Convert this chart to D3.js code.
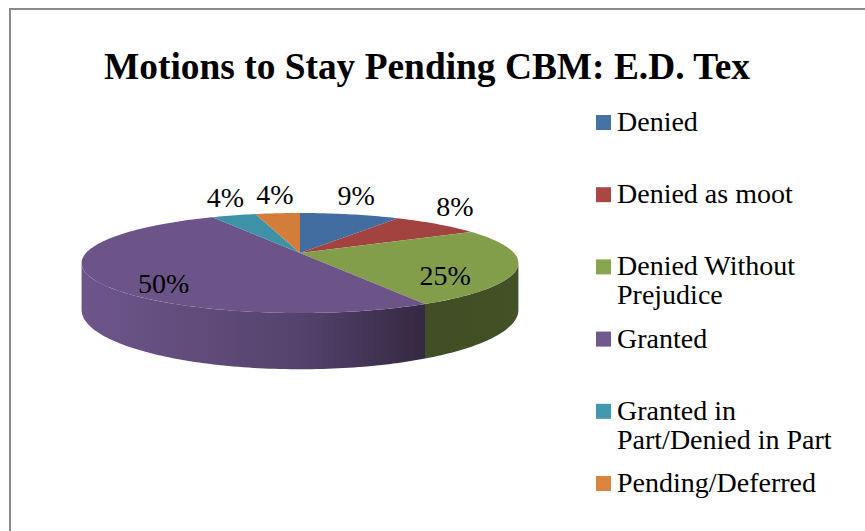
<!DOCTYPE html>
<html lang="en">
<head>
<meta charset="UTF-8">
<title>Motions to Stay Pending CBM: E.D. Tex</title>
<script src="https://d3js.org/d3.v7.min.js"></script>
<style>
  body { margin: 0; background: #fff; }
  text { font-family: "Liberation Serif", "DejaVu Serif", serif; }
</style>
</head>
<body>
<svg></svg>
<script>
  // chart data
  const title = 'Motions to Stay Pending CBM: E.D. Tex'
  const categories = ['Denied', 'Denied as moot', 'Denied Without Prejudice', 'Granted',
    'Granted in Part/Denied in Part', 'Pending/Deferred']
  const legendLines = [['Denied'], ['Denied as moot'], ['Denied Without', 'Prejudice'], ['Granted'],
    ['Granted in', 'Part/Denied in Part'], ['Pending/Deferred']]
  const shares = [9, 8, 25, 50, 4, 4]
  const colors = ['#4572A7', '#AA4643', '#89A54E', '#71588F', '#4198AF', '#DB843D']

  const width = 865, height = 531
  const svg = d3.select('svg').attr('width', width).attr('height', height)
  const defs = svg.append('defs')

  // chart border (left / top only visible)
  svg.append('rect')
    .attr('x', 10).attr('y', 9).attr('width', 900).attr('height', 600)
    .attr('fill', 'none').attr('stroke', '#8a8a8a').attr('stroke-width', 2)

  svg.append('text')
    .attr('x', 104).attr('y', 79)
    .attr('textLength', 646).attr('lengthAdjust', 'spacingAndGlyphs')
    .style('font-size', '38px').style('font-weight', 'bold')
    .text(title)

  // 3d pie: perspective projection of a tilted disc
  const cx = 300, cy = 253, R = 214, A = 48, persp = 0.2, depth = 45
  function proj(t, k = 1, dz = 0) {
    const s = 1 / (1 + persp * k * Math.cos(t))
    return [cx + R * k * Math.sin(t) * s, cy - A * k * Math.cos(t) * s + dz * s]
  }

  const pie = d3.pie().sort(null).value(d => d)
  const arcs = pie(shares)

  const rim = (a, b, dz) => {
    const n = Math.max(2, Math.ceil((b - a) / 0.02))
    return d3.range(n + 1).map(i => proj(a + (b - a) * i / n, 1, dz))
  }

  // side walls (front half only)
  const tR = Math.acos(-persp), tL = 2 * Math.PI - tR
  const sides = svg.append('g')
  arcs.forEach((d, i) => {
    const a = Math.max(d.startAngle, tR), b = Math.min(d.endAngle, tL)
    if (b <= a) return
    const base = d3.color(colors[i])
    const grad = defs.append('linearGradient')
      .attr('id', 'side' + i).attr('gradientUnits', 'userSpaceOnUse')
      .attr('x1', cx - R).attr('x2', cx + R).attr('y1', 0).attr('y2', 0)
    ;[[0, 0.1], [0.5, 0.8], [0.78, 2.1], [1, 2.0]].forEach(([o, k]) => {
      grad.append('stop').attr('offset', o).attr('stop-color', base.darker(k))
    })
    const pts = rim(a, b, 0).concat(rim(a, b, depth).reverse())
    sides.append('path')
      .attr('d', d3.line()(pts) + 'Z')
      .attr('fill', `url(#side${i})`)
  })

  // top faces
  const tops = svg.append('g')
  arcs.forEach((d, i) => {
    const pts = [proj(0, 0)].concat(rim(d.startAngle, d.endAngle, 0))
    tops.append('path')
      .attr('d', d3.line()(pts) + 'Z')
      .attr('fill', d3.color(colors[i]).darker(0.12))
  })

  // data labels
  const labels = svg.append('g')
  arcs.forEach((d, i) => {
    const mid = (d.startAngle + d.endAngle) / 2
    const inside = d.value >= 20
    const p = inside ? proj(mid, 0.68) : proj(mid, 1.15)
    labels.append('text')
      .attr('x', p[0]).attr('y', inside ? p[1] + 13 : p[1] - 14)
      .attr('dy', '0.35em')
      .attr('text-anchor', 'middle')
      .style('font-size', '28px')
      .text(d.value + '%')
  })

  // legend
  const legend = svg.append('g')
  legendLines.forEach((lines, i) => {
    const base = 131 + i * 72.2
    legend.append('rect')
      .attr('x', 596).attr('y', base - 16).attr('width', 15).attr('height', 15)
      .attr('fill', colors[i])
    lines.forEach((ln, j) => {
      legend.append('text')
        .attr('x', 617).attr('y', base + j * 29)
        .style('font-size', '28px')
        .text(ln)
    })
  })
</script>
</body>
</html>
